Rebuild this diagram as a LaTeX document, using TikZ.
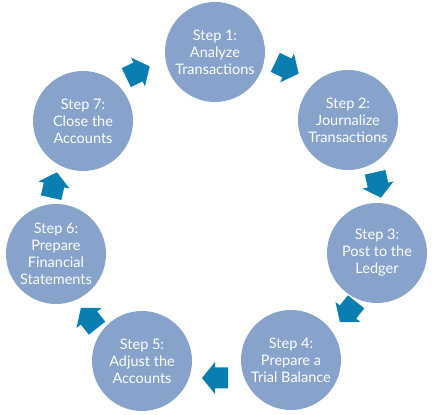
\documentclass[tikz,border=0pt]{standalone}
\usepackage{fontspec}
\setmainfont{Lato}
\definecolor{circ}{HTML}{87A3CB}
\definecolor{arr}{HTML}{0A7DB1}
\tikzset{
  stepcirc/.style={circle, fill=circ, minimum size=100pt, inner sep=0pt,
    text=white, align=center, font=\fontsize{14.5}{17}\selectfont},
  pics/blockarrow/.style={code={
    \fill[arr] (-13,-10.5) -- (0,-10.5) -- (0,-16) -- (13,0) -- (0,16) -- (0,10.5) -- (-13,10.5) -- cycle;}}
}
\begin{document}
\begin{tikzpicture}[x=1pt,y=1pt]
\useasboundingbox (0,0) rectangle (432,415);
\node[stepcirc] (s1) at (215,363) {Step 1:\\Analyze\\Transactions};
\node[stepcirc] (s2) at (348,295) {Step 2:\\Journalize\\Transactions};
\node[stepcirc] (s3) at (377,162) {Step 3:\\Post to the\\Ledger};
\node[stepcirc] (s4) at (291,55) {Step 4:\\Prepare a\\Trial Balance};
\node[stepcirc] (s5) at (142,54) {Step 5:\\Adjust the\\Accounts};
\node[stepcirc] (s6) at (56,161) {Step 6:\\Prepare\\Financial\\Statements};
\node[stepcirc] (s7) at (83,294) {Step 7:\\Close the\\Accounts};
\pic[rotate=-25.7]  (a1) at (287,347) {blockarrow};
\pic[rotate=-77.1]  (a2) at (378,230) {blockarrow};
\pic[rotate=-128.6] (a3) at (348,103) {blockarrow};
\pic[rotate=180]    (a4) at (215,37)  {blockarrow};
\pic[rotate=128.6]  (a5) at (89,97)   {blockarrow};
\pic[rotate=77.1]   (a6) at (54,230)  {blockarrow};
\pic[rotate=25.7]   (a7) at (138,343) {blockarrow};
\end{tikzpicture}
\end{document}
